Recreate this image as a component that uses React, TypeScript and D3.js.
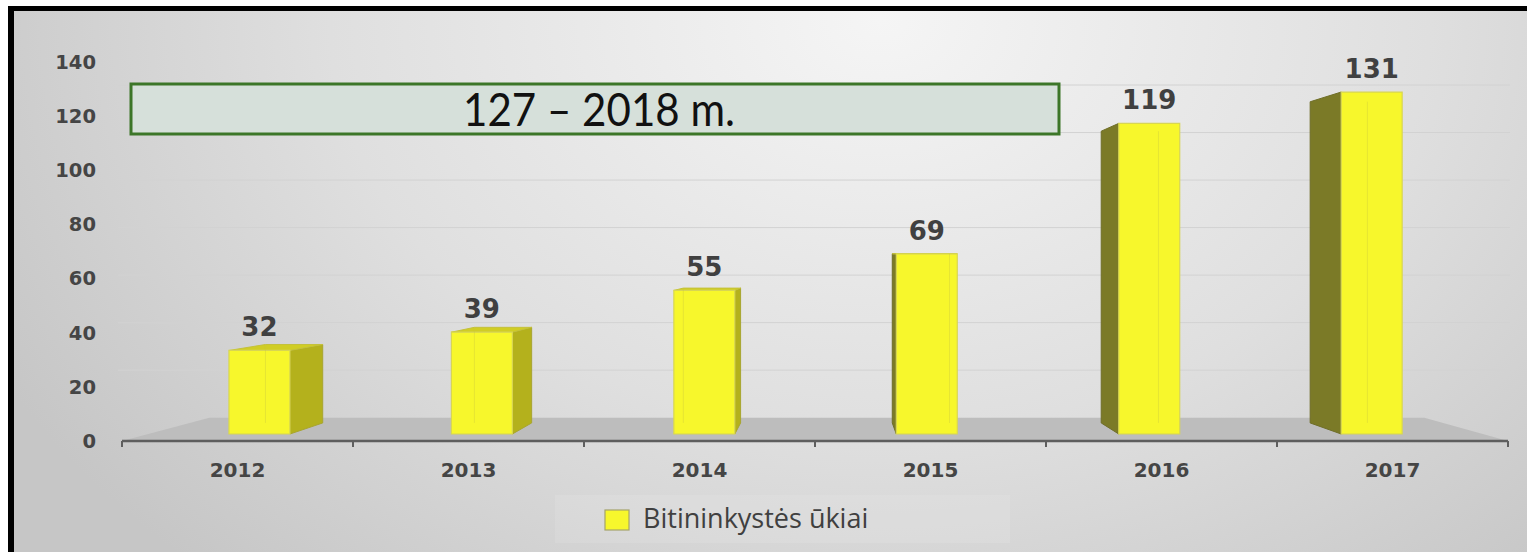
import React, { useEffect, useRef } from 'react';
import * as d3 from 'd3';

// chart values
const years = ['2012', '2013', '2014', '2015', '2016', '2017'];
const farms = [32, 39, 55, 69, 119, 131];
const yTicks = [0, 20, 40, 60, 80, 100, 120, 140];
const legendLabel = 'Bitininkystės ūkiai';
const noteText = '127 – 2018 m.';

const App = () => {
  const svgRef = useRef<SVGSVGElement | null>(null);

  useEffect(() => {
    const width = 1527;
    const height = 552;
    const svg = d3.select(svgRef.current).attr('width', width).attr('height', height);
    svg.selectAll('*').remove();

    // perspective: vanishing point and depths of floor / bars
    const vp: [number, number] = [830, 252];
    const floorDepth = 0.1234;
    const barFront = 0.037;
    const barBack = 0.0955;
    const project = (x: number, y: number, d: number): [number, number] => [
      x + d * (vp[0] - x),
      y + d * (vp[1] - y),
    ];

    const x = d3.scaleBand().domain(years).range([122, 1508]);
    const y = d3.scaleLinear().domain([0, 140]).range([441, 61.5]);

    const defs = svg.append('defs');
    const grad = defs.append('radialGradient')
      .attr('id', 'bg')
      .attr('gradientUnits', 'userSpaceOnUse')
      .attr('cx', 880).attr('cy', 20).attr('r', 1000)
      .attr('gradientTransform', 'translate(880,20) scale(1,0.75) translate(-880,-20)');
    grad.append('stop').attr('offset', '0%').attr('stop-color', '#f5f5f5');
    grad.append('stop').attr('offset', '55%').attr('stop-color', '#dfdfdf');
    grad.append('stop').attr('offset', '100%').attr('stop-color', '#c6c6c6');

    // page + frame
    svg.append('rect').attr('width', width).attr('height', height).attr('fill', '#ffffff');
    svg.append('rect').attr('x', 8).attr('y', 6).attr('width', width - 8).attr('height', height - 6).attr('fill', '#000');
    svg.append('rect').attr('x', 14).attr('y', 11).attr('width', width - 14).attr('height', height - 11).attr('fill', 'url(#bg)');

    // gridlines on the back wall
    svg.append('g')
      .selectAll('line')
      .data(yTicks.slice(1))
      .enter()
      .append('line')
      .attr('x1', 118)
      .attr('x2', 1510)
      .attr('y1', d => project(0, y(d), floorDepth)[1])
      .attr('y2', d => project(0, y(d), floorDepth)[1])
      .attr('stroke', '#d2d2d2')
      .attr('stroke-width', 1);

    // floor
    const [x0, x1] = x.range();
    const floorPts = [
      project(x0, y(0), 0),
      project(x1, y(0), 0),
      project(x1, y(0), floorDepth),
      project(x0, y(0), floorDepth),
    ];
    svg.append('path')
      .attr('d', d3.line()(floorPts) + 'Z')
      .attr('fill', '#bdbdbd');

    // bars
    const bw = x.bandwidth() * 0.274;
    const barsG = svg.append('g');
    const line = d3.line();
    years.forEach((yr, i) => {
      const v = farms[i];
      const cx = (x(yr) as number) + x.bandwidth() / 2;
      const l = cx - bw / 2;
      const r = cx + bw / 2;
      const t = y(v);
      const b = y(0);
      const fTL = project(l, t, barFront), fTR = project(r, t, barFront);
      const fBL = project(l, b, barFront), fBR = project(r, b, barFront);
      const bTL = project(l, t, barBack), bTR = project(r, t, barBack);
      const bBL = project(l, b, barBack), bBR = project(r, b, barBack);
      const g = barsG.append('g');

      if (cx < vp[0]) {
        g.append('path').attr('d', line([fTR, bTR, bBR, fBR]) + 'Z')
          .attr('fill', '#b4b11c').attr('stroke', '#a8a530').attr('stroke-width', 1);
      } else {
        g.append('path').attr('d', line([fTL, bTL, bBL, fBL]) + 'Z')
          .attr('fill', '#7b7a27').attr('stroke', '#6f6e28').attr('stroke-width', 1);
      }
      if (t > vp[1]) {
        g.append('path').attr('d', line([fTL, fTR, bTR, bTL]) + 'Z')
          .attr('fill', '#d0cd24').attr('stroke', '#c4c13a').attr('stroke-width', 1);
      }
      g.append('path').attr('d', line([fTL, fTR, fBR, fBL]) + 'Z')
        .attr('fill', '#f7f72c').attr('stroke', '#d8d653').attr('stroke-width', 1.2);
      // hidden back edge seen through the front face
      const hidden = cx < vp[0] ? [bTL, bBL] : [bTR, bBR];
      g.append('path').attr('d', line(hidden))
        .attr('fill', 'none').attr('stroke', '#c8c640').attr('stroke-opacity', 0.35).attr('stroke-width', 1);

      g.append('text')
        .attr('x', (fTL[0] + fTR[0]) / 2)
        .attr('y', fTL[1] - 14)
        .attr('text-anchor', 'middle')
        .style('font-family', 'DejaVu Sans')
        .style('font-weight', 'bold')
        .style('font-size', '26px')
        .attr('fill', '#404040')
        .text(v);
    });

    // x axis
    const xAxis = svg.append('g');
    xAxis.append('line')
      .attr('x1', x0).attr('x2', x1).attr('y1', 441).attr('y2', 441)
      .attr('stroke', '#5e5e5e').attr('stroke-width', 2.5);
    const boundaries = years.map(d => x(d) as number).concat([x1]);
    xAxis.selectAll('line.tick')
      .data(boundaries)
      .enter()
      .append('line')
      .attr('class', 'tick')
      .attr('x1', d => d).attr('x2', d => d)
      .attr('y1', 441).attr('y2', 447)
      .attr('stroke', '#5e5e5e').attr('stroke-width', 2);
    xAxis.selectAll('text')
      .data(years)
      .enter()
      .append('text')
      .attr('x', d => (x(d) as number) + x.bandwidth() / 2)
      .attr('y', 477)
      .attr('text-anchor', 'middle')
      .style('font-family', 'DejaVu Sans')
      .style('font-weight', 'bold')
      .style('font-size', '20px')
      .attr('fill', '#454545')
      .text(d => d);

    // y axis labels
    svg.append('g')
      .selectAll('text')
      .data(yTicks)
      .enter()
      .append('text')
      .attr('x', 96)
      .attr('y', d => y(d))
      .attr('dy', '0.36em')
      .attr('text-anchor', 'end')
      .style('font-family', 'DejaVu Sans')
      .style('font-weight', 'bold')
      .style('font-size', '19.5px')
      .attr('fill', '#454545')
      .text(d => d);

    // note box
    svg.append('rect')
      .attr('x', 131).attr('y', 84).attr('width', 928).attr('height', 50)
      .attr('fill', '#d6e0da').attr('stroke', '#3c7628').attr('stroke-width', 3);
    svg.append('text')
      .attr('x', 463).attr('y', 126)
      .attr('textLength', 272)
      .attr('lengthAdjust', 'spacingAndGlyphs')
      .style('font-family', 'Lato')
      .style('font-size', '46px')
      .attr('fill', '#111')
      .text(noteText);

    // legend
    svg.append('rect')
      .attr('x', 555).attr('y', 495).attr('width', 455).attr('height', 48)
      .attr('fill', '#ffffff').attr('fill-opacity', 0.1);
    svg.append('rect')
      .attr('x', 605).attr('y', 510).attr('width', 24).attr('height', 20)
      .attr('fill', '#f7f72c').attr('stroke', '#a5a36a').attr('stroke-width', 1.2);
    svg.append('text')
      .attr('x', 643).attr('y', 528)
      .style('font-family', 'Open Sans')
      .style('font-size', '27px')
      .attr('fill', '#404040')
      .text(legendLabel);
  }, []);

  return (
    <svg ref={svgRef} style={{ position: 'absolute', left: 0, top: 0 }}></svg>
  );
};

export default App;
